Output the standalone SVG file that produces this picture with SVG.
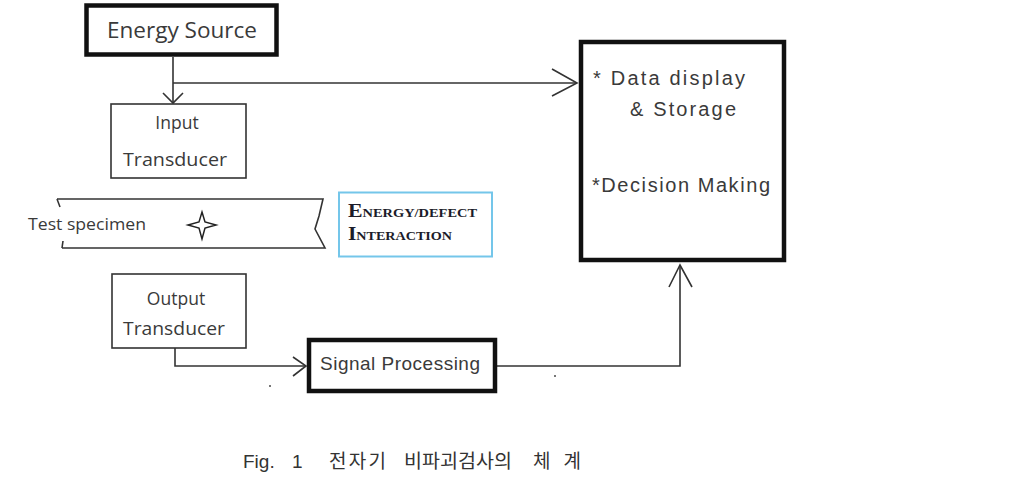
<svg xmlns="http://www.w3.org/2000/svg" width="1028" height="488" viewBox="0 0 1028 488">
  <defs>
    <style>
      .thin { fill: #fff; stroke: #333; stroke-width: 1.6; }
      .thick { fill: #fff; stroke: #111; stroke-width: 4.5; }
      .ui { font-family: "Open Sans", "Noto Sans", "DejaVu Sans", sans-serif; fill: #3a3a3a; }
      .gul { font-family: "Liberation Sans", Arial, sans-serif; fill: #3a3a3a; }
      .line { fill: none; stroke: #333; stroke-width: 1.6; }
      .head { fill: none; stroke: #333; stroke-width: 1.6; stroke-linejoin: miter; }
      .sc { font-family: "Liberation Serif", "Times New Roman", serif; font-weight: bold; fill: #1c1c2a; }
      .cap { font-size: 19px; fill: #333; font-family: "Liberation Sans", "Noto Sans CJK KR", sans-serif; }
      .ko { font-size: 19px; fill: #333; font-family: "Noto Sans CJK KR", sans-serif; }
    </style>
  </defs>

  <rect width="1028" height="488" fill="#fff"/>

  <!-- connectors -->
  <g id="connectors">
    <!-- energy source down to input transducer -->
    <path class="line" d="M173 57 V103"/>
    <path class="head" d="M163 93 L173 103 L183 93"/>
    <!-- energy source branch to data display -->
    <path class="line" d="M173 83 H577"/>
    <path class="head" d="M552 69 L577 83 L552 96"/>
    <!-- output transducer to signal processing -->
    <path class="line" d="M175 348 V366 H306"/>
    <path class="head" d="M293 357 L306 366 L293 376"/>
    <!-- signal processing up to data display -->
    <path class="line" d="M497 366 H680 V265"/>
    <path class="head" d="M669 287 L680 265 L692 287"/>
  </g>

  <g id="energy-source">
    <rect class="thick" x="86.5" y="5.5" width="190" height="49"/>
    <text class="ui" x="182" y="38" font-size="21" text-anchor="middle" textLength="150" lengthAdjust="spacingAndGlyphs">Energy Source</text>
  </g>

  <g id="input-transducer">
    <rect class="thin" x="111" y="104" width="135" height="74"/>
    <text class="ui" x="177" y="129" font-size="17.5" text-anchor="middle">Input</text>
    <text class="ui" x="175" y="166" font-size="17.5" text-anchor="middle" textLength="104" lengthAdjust="spacingAndGlyphs">Transducer</text>
  </g>

  <g id="test-specimen">
    <path class="line" d="M57 199 H323 L319 216 L315 229 L325 248 H62"/>
    <path class="line" d="M57 199 L60 207"/>
    <path class="line" d="M62 248 L63 241"/>
    <text class="ui" x="28" y="230" font-size="17" textLength="118" lengthAdjust="spacingAndGlyphs">Test specimen</text>
    <path d="M202 212 L205 222 L216 225 L205 228 L202 239 L199 228 L188 225 L199 222 Z" fill="#fff" stroke="#222" stroke-width="1.5"/>
  </g>

  <g id="energy-defect-interaction">
    <rect x="339" y="192.5" width="153" height="64" fill="#fff" stroke="#74c6ea" stroke-width="2"/>
    <text class="sc" x="348" y="217" font-size="19" textLength="129" lengthAdjust="spacingAndGlyphs">E<tspan font-size="12.5">NERGY/DEFECT</tspan></text>
    <text class="sc" x="348" y="240" font-size="19" textLength="104" lengthAdjust="spacingAndGlyphs">I<tspan font-size="12.5">NTERACTION</tspan></text>
  </g>

  <g id="data-display">
    <rect class="thick" x="581" y="42" width="203" height="218" stroke-width="4"/>
    <text class="gul" x="593" y="85" font-size="20" textLength="152" lengthAdjust="spacing">*  Data  display</text>
    <text class="gul" x="630" y="116" font-size="20" textLength="106" lengthAdjust="spacing">&amp;  Storage</text>
    <text class="gul" x="592" y="192" font-size="20" textLength="178" lengthAdjust="spacing">*Decision  Making</text>
  </g>

  <g id="output-transducer">
    <rect class="thin" x="112" y="274" width="134" height="74"/>
    <text class="ui" x="176" y="305" font-size="17.5" text-anchor="middle">Output</text>
    <text class="ui" x="174" y="335" font-size="17.5" text-anchor="middle" textLength="102" lengthAdjust="spacingAndGlyphs">Transducer</text>
  </g>

  <g id="signal-processing">
    <rect class="thick" x="309" y="340" width="186" height="51"/>
    <text class="gul" x="320" y="370" font-size="19" textLength="160" lengthAdjust="spacing">Signal  Processing</text>
  </g>

  <!-- stray marks -->
  <rect x="269" y="385" width="2" height="2" fill="#777"/>
  <rect x="554" y="375" width="2" height="2" fill="#777"/>

  <g id="caption">
    <text class="cap" x="243" y="468">Fig.</text>
    <text class="cap" x="292" y="468">1</text>
    <text class="ko" x="329" y="468" textLength="57" lengthAdjust="spacing">전자기</text>
    <text class="ko" x="404" y="468" textLength="108" lengthAdjust="spacingAndGlyphs">비파괴검사의</text>
    <text class="ko" x="533" y="468" textLength="48" lengthAdjust="spacing">체계</text>
  </g>
</svg>
